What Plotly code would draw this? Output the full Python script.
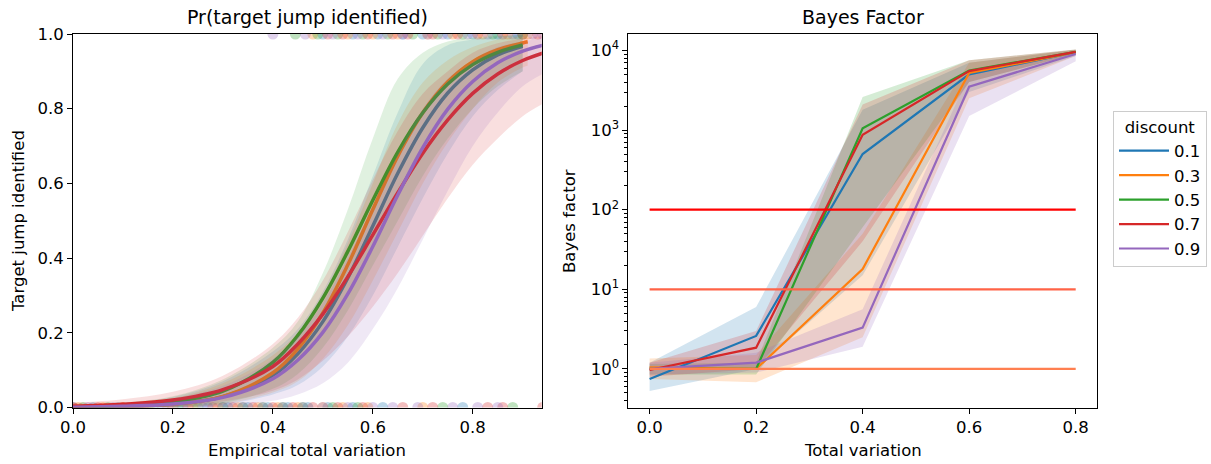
import plotly.graph_objects as go

W, H = 1211, 464

discounts = ["0.1", "0.3", "0.5", "0.7", "0.9"]
colors = ["#1f77b4", "#ff7f0e", "#2ca02c", "#d62728", "#9467bd"]

# ---------- left panel: logistic fit curves ----------
grid_base = [0, 0.1, 0.2, 0.3, 0.4, 0.45, 0.5, 0.55, 0.6, 0.65, 0.7, 0.75, 0.8, 0.85, 0.9]
fit_x_01 = grid_base
fit_x_03 = grid_base + [0.91]
fit_x_05 = grid_base
fit_x_07 = grid_base + [0.95]
fit_x_09 = grid_base + [0.95]

fit_y_01 = [0.0010, 0.0030, 0.0094, 0.029, 0.086, 0.144, 0.230, 0.347, 0.486, 0.627, 0.749, 0.842, 0.904, 0.944, 0.967]
fit_y_03 = [0.0008, 0.0028, 0.0092, 0.030, 0.093, 0.157, 0.253, 0.382, 0.530, 0.673, 0.789, 0.872, 0.926, 0.958, 0.976, 0.979]
fit_y_05 = [0.0017, 0.0051, 0.015, 0.044, 0.121, 0.193, 0.293, 0.418, 0.555, 0.684, 0.789, 0.866, 0.918, 0.951, 0.971]
fit_y_07 = [0.0035, 0.0085, 0.020, 0.048, 0.110, 0.170, 0.250, 0.350, 0.462, 0.575, 0.681, 0.770, 0.841, 0.893, 0.929, 0.953]
fit_y_09 = [0.0010, 0.0031, 0.0092, 0.027, 0.077, 0.127, 0.201, 0.304, 0.431, 0.569, 0.696, 0.799, 0.873, 0.923, 0.954, 0.973]

fit_hi_01 = [0.006, 0.012, 0.028, 0.07, 0.15, 0.21, 0.31, 0.45, 0.62, 0.79, 0.92, 0.97, 0.985, 0.993, 0.997]
fit_lo_01 = [0.0001, 0.0004, 0.0018, 0.008, 0.035, 0.06, 0.11, 0.19, 0.30, 0.43, 0.56, 0.68, 0.78, 0.85, 0.90]
fit_hi_03 = [0.005, 0.01, 0.025, 0.065, 0.14, 0.2, 0.3, 0.44, 0.6, 0.76, 0.87, 0.93, 0.965, 0.985, 0.993, 0.994]
fit_lo_03 = [0.0001, 0.0005, 0.002, 0.009, 0.04, 0.07, 0.13, 0.22, 0.34, 0.47, 0.60, 0.71, 0.80, 0.87, 0.91, 0.915]
fit_hi_05 = [0.006, 0.013, 0.03, 0.075, 0.16, 0.23, 0.36, 0.53, 0.72, 0.88, 0.95, 0.98, 0.99, 0.995, 0.998]
fit_lo_05 = [0.0002, 0.0008, 0.003, 0.012, 0.05, 0.09, 0.16, 0.26, 0.38, 0.50, 0.62, 0.72, 0.80, 0.86, 0.90]
fit_hi_07 = [0.012, 0.022, 0.042, 0.085, 0.17, 0.24, 0.34, 0.47, 0.61, 0.74, 0.84, 0.9, 0.95, 0.975, 0.988, 0.995]
fit_lo_07 = [0.0005, 0.0015, 0.005, 0.016, 0.045, 0.075, 0.125, 0.19, 0.27, 0.36, 0.46, 0.56, 0.65, 0.72, 0.78, 0.82]
fit_hi_09 = [0.005, 0.01, 0.024, 0.058, 0.13, 0.19, 0.28, 0.4, 0.54, 0.68, 0.8, 0.88, 0.93, 0.965, 0.98, 0.99]
fit_lo_09 = [0.0001, 0.0003, 0.0012, 0.005, 0.018, 0.035, 0.065, 0.12, 0.21, 0.32, 0.45, 0.58, 0.70, 0.79, 0.86, 0.90]

# observed outcomes: x positions of trials not identified (y=0) and identified (y=1)
miss_01 = [0.0, 0.04, 0.09, 0.13, 0.18, 0.22, 0.27, 0.31, 0.35, 0.39, 0.43, 0.47, 0.51, 0.56, 0.62, 0.78]
miss_03 = [0.01, 0.06, 0.1, 0.15, 0.2, 0.24, 0.29, 0.33, 0.37, 0.41, 0.45, 0.5, 0.54, 0.59, 0.70]
miss_05 = [0.02, 0.07, 0.12, 0.16, 0.21, 0.25, 0.3, 0.34, 0.38, 0.42, 0.46, 0.52, 0.57, 0.74, 0.88]
miss_07 = [0.0, 0.05, 0.1, 0.14, 0.19, 0.23, 0.28, 0.32, 0.36, 0.4, 0.44, 0.48, 0.53, 0.58, 0.66, 0.72, 0.83, 0.86, 0.94]
miss_09 = [0.03, 0.08, 0.11, 0.17, 0.2, 0.26, 0.3, 0.34, 0.38, 0.42, 0.46, 0.5, 0.55, 0.6, 0.64, 0.69, 0.76, 0.81, 0.85]
hit_01 = [0.5, 0.56, 0.61, 0.66, 0.7, 0.75, 0.8, 0.85, 0.89]
hit_03 = [0.48, 0.55, 0.6, 0.65, 0.71, 0.76, 0.82, 0.87, 0.91]
hit_05 = [0.445, 0.49, 0.53, 0.58, 0.63, 0.68, 0.73, 0.78, 0.84, 0.9]
hit_07 = [0.51, 0.54, 0.59, 0.64, 0.67, 0.72, 0.77, 0.81, 0.86, 0.9, 0.93]
hit_09 = [0.4, 0.465, 0.52, 0.57, 0.62, 0.66, 0.71, 0.74, 0.79, 0.83, 0.88, 0.92, 0.94]

# ---------- right panel: Bayes factor ----------
tv = [0.0, 0.2, 0.4, 0.6, 0.8]
bf_01 = [0.75, 2.6, 500, 5000, 9500]
bf_03 = [1.05, 1.0, 18, 5200, 9500]
bf_05 = [1.0, 1.0, 1050, 5600, 9600]
bf_07 = [0.97, 1.85, 870, 5500, 9600]
bf_09 = [1.0, 1.2, 3.3, 3500, 9000]
bf_lo_01 = [0.53, 1.0, 15, 3000, 8500]
bf_hi_01 = [1.2, 6.0, 1800, 7000, 10200]
bf_lo_03 = [0.75, 0.68, 2.5, 2500, 8500]
bf_hi_03 = [1.35, 1.5, 50, 7000, 10200]
bf_lo_05 = [0.85, 0.85, 60, 4000, 9000]
bf_hi_05 = [1.15, 1.2, 2600, 7500, 10300]
bf_lo_07 = [0.8, 1.0, 40, 4000, 9000]
bf_hi_07 = [1.2, 3.0, 2100, 7500, 10300]
bf_lo_09 = [0.85, 0.9, 1.9, 1500, 7300]
bf_hi_09 = [1.2, 1.6, 5.6, 5000, 9800]

thresholds = [100, 10, 1]
threshold_colors = ["#ff0000", "#ff6347", "#ff7f50"]
threshold_x = [0.0, 0.8]

left_yticks = [0.0, 0.2, 0.4, 0.6, 0.8, 1.0]
left_xticks = [0.0, 0.2, 0.4, 0.6, 0.8]
right_xticks = [0.0, 0.2, 0.4, 0.6, 0.8]
right_yticks = [1, 10, 100, 1000, 10000]
right_yticklabels = ["10<sup>0</sup>", "10<sup>1</sup>", "10<sup>2</sup>", "10<sup>3</sup>", "10<sup>4</sup>"]


def rgba(h, a):
    h = h.lstrip("#")
    return "rgba(%d,%d,%d,%.3f)" % (int(h[0:2], 16), int(h[2:4], 16), int(h[4:6], 16), a)


fit_x = [fit_x_01, fit_x_03, fit_x_05, fit_x_07, fit_x_09]
fit_y = [fit_y_01, fit_y_03, fit_y_05, fit_y_07, fit_y_09]
fit_hi = [fit_hi_01, fit_hi_03, fit_hi_05, fit_hi_07, fit_hi_09]
fit_lo = [fit_lo_01, fit_lo_03, fit_lo_05, fit_lo_07, fit_lo_09]
misses = [miss_01, miss_03, miss_05, miss_07, miss_09]
hits = [hit_01, hit_03, hit_05, hit_07, hit_09]
bfs = [bf_01, bf_03, bf_05, bf_07, bf_09]
bf_los = [bf_lo_01, bf_lo_03, bf_lo_05, bf_lo_07, bf_lo_09]
bf_his = [bf_hi_01, bf_hi_03, bf_hi_05, bf_hi_07, bf_hi_09]

FS = 16.5
fig = go.Figure()

# left panel
for i, c in enumerate(colors):
    fig.add_trace(go.Scatter(
        x=misses[i] + hits[i], y=[0] * len(misses[i]) + [1] * len(hits[i]),
        mode="markers", marker=dict(size=11, color=rgba(c, 0.3), line=dict(width=0)),
        xaxis="x", yaxis="y", showlegend=False, hoverinfo="skip"))
for i, c in enumerate(colors):
    fig.add_trace(go.Scatter(x=fit_x[i], y=fit_lo[i], mode="lines",
                             line=dict(width=0, shape="spline", color=c),
                             xaxis="x", yaxis="y", showlegend=False, hoverinfo="skip"))
    fig.add_trace(go.Scatter(x=fit_x[i], y=fit_hi[i], mode="lines", fill="tonexty",
                             fillcolor=rgba(c, 0.15),
                             line=dict(width=0, shape="spline", color=c),
                             xaxis="x", yaxis="y", showlegend=False, hoverinfo="skip"))
    fig.add_trace(go.Scatter(x=fit_x[i], y=fit_y[i], mode="lines",
                             line=dict(width=3.5, shape="spline", color=c),
                             xaxis="x", yaxis="y", showlegend=False))

# right panel
for i, c in enumerate(colors):
    fig.add_trace(go.Scatter(x=tv, y=bf_los[i], mode="lines", line=dict(width=0, color=c),
                             xaxis="x2", yaxis="y2", showlegend=False, hoverinfo="skip"))
    fig.add_trace(go.Scatter(x=tv, y=bf_his[i], mode="lines", fill="tonexty",
                             fillcolor=rgba(c, 0.2), line=dict(width=0, color=c),
                             xaxis="x2", yaxis="y2", showlegend=False, hoverinfo="skip"))
for i, c in enumerate(colors):
    fig.add_trace(go.Scatter(x=tv, y=bfs[i], mode="lines", name=discounts[i],
                             line=dict(width=2.2, color=c), xaxis="x2", yaxis="y2"))
for t, tc in zip(thresholds, threshold_colors):
    fig.add_trace(go.Scatter(x=threshold_x, y=[t, t], mode="lines",
                             line=dict(width=2.2, color=tc), xaxis="x2", yaxis="y2",
                             showlegend=False))

minor_vals = [m * 10 ** k for k in range(-1, 5) for m in range(2, 10)]

axis_common = dict(showline=True, linecolor="black", linewidth=1, mirror=True,
                   ticks="outside", ticklen=5, tickwidth=1, tickcolor="black",
                   showgrid=False, zeroline=False, automargin=False,
                   tickfont=dict(family="DejaVu Sans", size=FS, color="black"))

fig.update_layout(
    width=W, height=H, margin=dict(l=0, r=0, t=0, b=0),
    paper_bgcolor="white", plot_bgcolor="white",
    font=dict(family="DejaVu Sans", size=FS, color="black"),
    xaxis=dict(domain=[73 / W, 541.7 / W], range=[0, 0.938], anchor="y",
               tickvals=left_xticks, tickformat=".1f", **axis_common),
    yaxis=dict(domain=[1 - 407.5 / H, 1 - 34 / H], range=[0, 1], anchor="x",
               tickvals=left_yticks, tickformat=".1f", **axis_common),
    xaxis2=dict(domain=[628.3 / W, 1097 / W], range=[-0.04, 0.84], anchor="y2",
                tickvals=right_xticks, tickformat=".1f", **axis_common),
    yaxis2=dict(domain=[1 - 407.5 / H, 1 - 34 / H], type="log", range=[-0.484, 4.206],
                anchor="x2", tickvals=right_yticks, ticktext=right_yticklabels,
                minor=dict(tickmode="array", tickvals=minor_vals, ticks="outside",
                           ticklen=3, tickcolor="black", tickwidth=1, showgrid=False),
                **axis_common),
    legend=dict(x=1113 / W, y=1 - 111 / H, xanchor="left", yanchor="top",
                traceorder="normal", itemwidth=50,
                title=dict(text="discount", font=dict(size=FS), side="top center"),
                font=dict(size=FS), bordercolor="#cccccc", borderwidth=1,
                bgcolor="white", tracegroupgap=0),
    annotations=[
        dict(text="Pr(target jump identified)", x=(73 + 541.7) / 2 / W, y=1 - 17 / H,
             xref="paper", yref="paper", showarrow=False, font=dict(size=19),
             xanchor="center", yanchor="middle"),
        dict(text="Bayes Factor", x=(628.3 + 1097) / 2 / W, y=1 - 17 / H,
             xref="paper", yref="paper", showarrow=False, font=dict(size=19),
             xanchor="center", yanchor="middle"),
        dict(text="Empirical total variation", x=(73 + 541.7) / 2 / W, y=1 - 450 / H,
             xref="paper", yref="paper", showarrow=False, font=dict(size=FS),
             xanchor="center", yanchor="middle"),
        dict(text="Total variation", x=(628.3 + 1097) / 2 / W, y=1 - 450 / H,
             xref="paper", yref="paper", showarrow=False, font=dict(size=FS),
             xanchor="center", yanchor="middle"),
        dict(text="Target jump identified", x=19 / W, y=1 - 221 / H,
             xref="paper", yref="paper", showarrow=False, font=dict(size=FS),
             textangle=-90, xanchor="center", yanchor="middle"),
        dict(text="Bayes factor", x=570 / W, y=1 - 221 / H,
             xref="paper", yref="paper", showarrow=False, font=dict(size=FS),
             textangle=-90, xanchor="center", yanchor="middle"),
    ],
)

fig.write_html("out.html", config={"displayModeBar": False},
               post_script="document.body.style.margin='0px';document.body.style.padding='0px';")
